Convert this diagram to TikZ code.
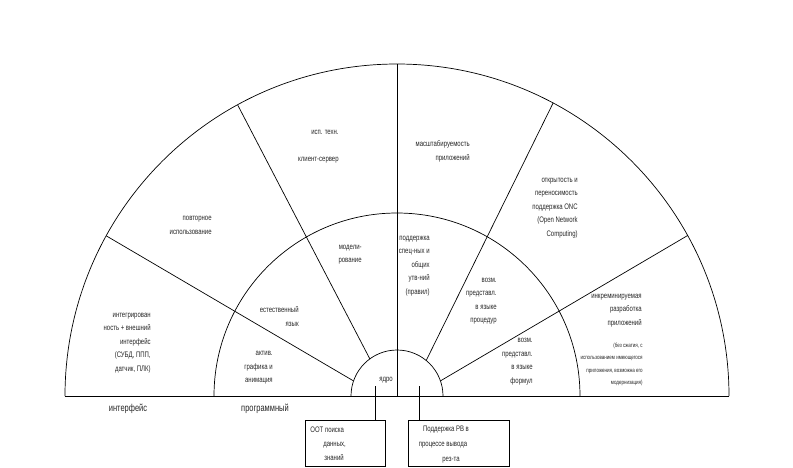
\documentclass[tikz,border=0pt]{standalone}
\usepackage{fontspec}
\setmainfont[FakeStretch=0.75]{Liberation Sans}
\begin{document}
\begin{tikzpicture}[x=1pt,y=-1pt,line width=0.7pt,
  txt/.style={font=\fontsize{8}{13.5}\selectfont,align=right,inner sep=0pt,text=black!85},
  small/.style={font=\fontsize{6}{12.3}\selectfont,align=right,inner sep=0pt,text=black!85},
  lbl/.style={font=\fontsize{10}{12}\selectfont,inner sep=0pt,text=black!85},
  box/.style={draw,inner sep=0pt}]
\useasboundingbox (0,0) rectangle (793,467);
\coordinate (O) at (397,396);
% base line and arcs
\draw (65,396) -- (729,396);
\draw (65,396) arc[start angle=180,end angle=0,radius=332pt];
\draw (214,396) arc[start angle=180,end angle=0,radius=183pt];
\draw (351,396) arc[start angle=180,end angle=0,radius=46pt];
% dividing lines
\coordinate (a1) at (106.2,235.8); \coordinate (a2) at (353.5,380.9);
\coordinate (b1) at (237.7,105);   \coordinate (b2) at (369.9,359);
\coordinate (c1) at (397,64);      \coordinate (c2) at (397,396);
\coordinate (d1) at (553.1,103);   \coordinate (d2) at (426.2,360.5);
\coordinate (e1) at (688,235.3);   \coordinate (e2) at (440.4,380.9);
\draw (a1) -- (a2);
\draw (b1) -- (b2);
\draw (c1) -- (c2);
\draw (d1) -- (d2);
\draw (e1) -- (e2);
% outer ring texts
\node[txt,anchor=east] at (339,132) {исп. техн.};
\node[txt,anchor=east] at (339,160) {клиент-сервер};
\node[txt,anchor=east] at (470,151.5) {масштабируемость\\приложений};
\node[txt,anchor=east] at (212,225.5) {повторное\\использование};
\node[txt,anchor=east] at (151,343) {интегрирован\\ность + внешний\\интерфейс\\(СУБД, ППП,\\датчик, ПЛК)};
\node[txt,anchor=east] at (578,208) {открытость и\\переносимость\\поддержка ONC\\(Open Network\\Computing)};
\node[txt,anchor=east] at (642,310.5) {инкреминируемая\\разработка\\приложений};
\node[small,anchor=east] at (643,364.5) {(без сжатия, с\\использованием имеющегося\\приложения, возможна его\\модернизация)};
% middle ring texts
\node[txt,anchor=east] at (299,316.5) {естественный\\язык};
\node[txt,anchor=east] at (273,368) {актив.\\графика и\\анимация};
\node[txt,anchor=east] at (362,254.5) {модели-\\рование};
\node[txt,anchor=east] at (430,266) {поддержка\\спец-ных и\\общих\\утв-ний\\(правил)};
\node[txt,anchor=east] at (497,301) {возм.\\представл.\\в языке\\процедур};
\node[txt,anchor=east] at (533,361.5) {возм.\\представл.\\в языке\\формул};
% core
\node[txt] (core) at (386,380) {ядро};
% labels under base line
\node[lbl] at (128,409) {интерфейс};
\node[lbl] at (265,409) {программный};
% boxes
\node[box,minimum width=80pt,minimum height=46pt] (bx1) at (345,443) {};
\node[box,minimum width=101pt,minimum height=46pt] (bx2) at (458.5,443) {};
\node[txt,anchor=west] at (310,430) {ООТ поиска};
\node[txt,anchor=west] at (323,445) {данных,};
\node[txt,anchor=west] at (324,458) {знаний};
\node[txt] at (446,430) {Поддержка РВ в};
\node[txt] at (443,445) {процессе вывода};
\node[txt] at (451,460) {рез-та};
% connectors
\coordinate (k1) at (375,386);
\coordinate (k2) at (419,386);
\draw (k1) -- (k1 |- bx1.north);
\draw (k2) -- (k2 |- bx2.north);
\end{tikzpicture}
\end{document}
